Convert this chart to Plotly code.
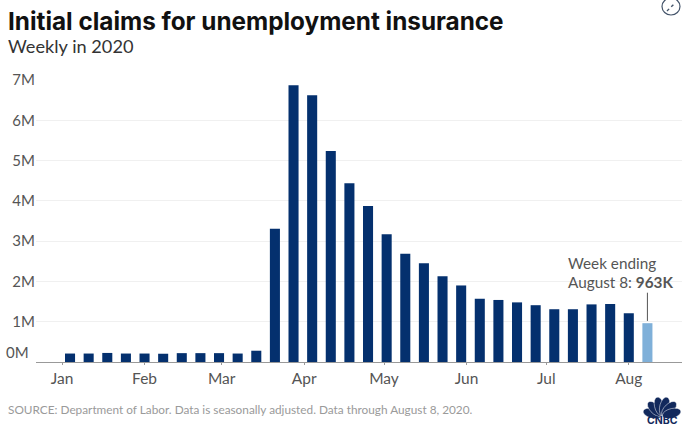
import numpy as np
import plotly.graph_objects as go

week_ending = ["2020-01-04","2020-01-11","2020-01-18","2020-01-25","2020-02-01","2020-02-08","2020-02-15","2020-02-22",
               "2020-02-29","2020-03-07","2020-03-14","2020-03-21","2020-03-28","2020-04-04","2020-04-11","2020-04-18",
               "2020-04-25","2020-05-02","2020-05-09","2020-05-16","2020-05-23","2020-05-30","2020-06-06","2020-06-13",
               "2020-06-20","2020-06-27","2020-07-04","2020-07-11","2020-07-18","2020-07-25","2020-08-01","2020-08-08"]
claims_m = [0.21,0.21,0.225,0.21,0.21,0.205,0.22,0.22,0.22,0.21,0.28,3.31,6.87,6.62,5.24,4.44,
            3.87,3.17,2.69,2.45,2.13,1.90,1.57,1.54,1.48,1.41,1.31,1.31,1.43,1.44,1.21,0.963]
month_ticks = ["2020-01-01","2020-02-01","2020-03-01","2020-04-01","2020-05-01","2020-06-01","2020-07-01","2020-08-01"]
month_labels = ["Jan","Feb","Mar","Apr","May","Jun","Jul","Aug"]
y_ticks = [1,2,3,4,5,6,7]
y_labels = ["1M","2M","3M","4M","5M","6M","7M"]

W, H = 688, 431
L, R, T, B = 36, 682, 80, 362
FONT = "Lato"
NAVY = "#04306e"
px = lambda v: (v - L) / (R - L)
py = lambda v: (B - v) / (B - T)

colors = [NAVY] * (len(claims_m) - 1) + ["#7fb0d9"]
fig = go.Figure(go.Bar(x=week_ending, y=claims_m, marker=dict(color=colors, line_width=0), hoverinfo="skip"))

shapes = [dict(type="line", xref="x", yref="y", x0=week_ending[-1], x1=week_ending[-1],
               y0=1.02, y1=1.72, line=dict(color="#555555", width=1))]

# expand icon, top right
shapes.append(dict(type="circle", xref="paper", yref="paper", x0=px(662), x1=px(680), y0=py(15), y1=py(-2),
                   line=dict(color="#44546a", width=1.2)))
shapes.append(dict(type="line", xref="paper", yref="paper", x0=px(667), x1=px(675), y0=py(11), y1=py(3),
                   line=dict(color="#44546a", width=1.4, dash="dot")))

# peacock logo
cx, cy = 662, 416
for ang in [-75, -45, -15, 15, 45, 75]:
    a = np.radians(ang)
    t = np.linspace(0, 2 * np.pi, 18)
    ex = 4.8 * np.sin(t)
    ey = 10.0 + 9.5 * np.cos(t)
    X = cx + ex * np.cos(a) + ey * np.sin(a)
    Y = cy + ex * np.sin(a) - ey * np.cos(a)
    path = "M" + "L".join(f"{px(p):.5f},{py(q):.5f}" for p, q in zip(X, Y)) + "Z"
    shapes.append(dict(type="path", xref="paper", yref="paper", path=path,
                       fillcolor="#12295c", line=dict(color="white", width=0.5)))

def text(x, y, s, size, color, anchor="left", family=FONT):
    return dict(xref="paper", yref="paper", x=px(x), y=py(y), text=s, showarrow=False, xanchor=anchor,
                yanchor="middle", font=dict(family=family, size=size, color=color), align="left",
                xshift=0, yshift=0)

annotations = [
    text(6, 21, "<b>Initial claims for unemployment insurance</b>", 24.3, "#111111", family="Inter"),
    text(6, 46, "Weekly in 2020", 18.2, "#333333"),
    text(31, 352, "0M", 15, "#555555", "right"),
    text(6, 409, "SOURCE: Department of Labor. Data is seasonally adjusted. Data through August 8, 2020.", 11.8, "#9a9a9a"),
    text(566, 263, "Week ending", 15.3, "#555555"),
    text(566, 282, "August 8: <b>963K</b>", 15.3, "#555555"),
    text(662, 420.5, "<b>CNBC</b>", 10.5, "#12295c", "center", family="Inter"),
]

fig.update_layout(
    width=W, height=H, margin=dict(l=L, r=W - R, t=T, b=H - B, pad=0),
    paper_bgcolor="white", plot_bgcolor="white", bargap=0.46, showlegend=False,
    font=dict(family=FONT, color="#555555"),
    shapes=shapes, annotations=annotations,
    xaxis=dict(type="date", range=["2019-12-22 05:00", "2020-08-21"], tickmode="array", tickvals=month_ticks,
               ticktext=month_labels, ticks="outside", ticklen=2, tickcolor="#999999", showgrid=False,
               showline=True, linecolor="#999999", linewidth=1, tickfont=dict(size=15.5, color="#555555")),
    yaxis=dict(range=[0, 7], tickmode="array", tickvals=y_ticks, ticktext=y_labels, showgrid=True,
               gridcolor="#f0f0f0", gridwidth=1, zeroline=False, ticks="", showline=False,
               tickfont=dict(size=15, color="#555555")),
)
fig.write_html("out.html", config=dict(displayModeBar=False),
               post_script="document.body.style.margin='0';document.documentElement.style.overflow='hidden';")
